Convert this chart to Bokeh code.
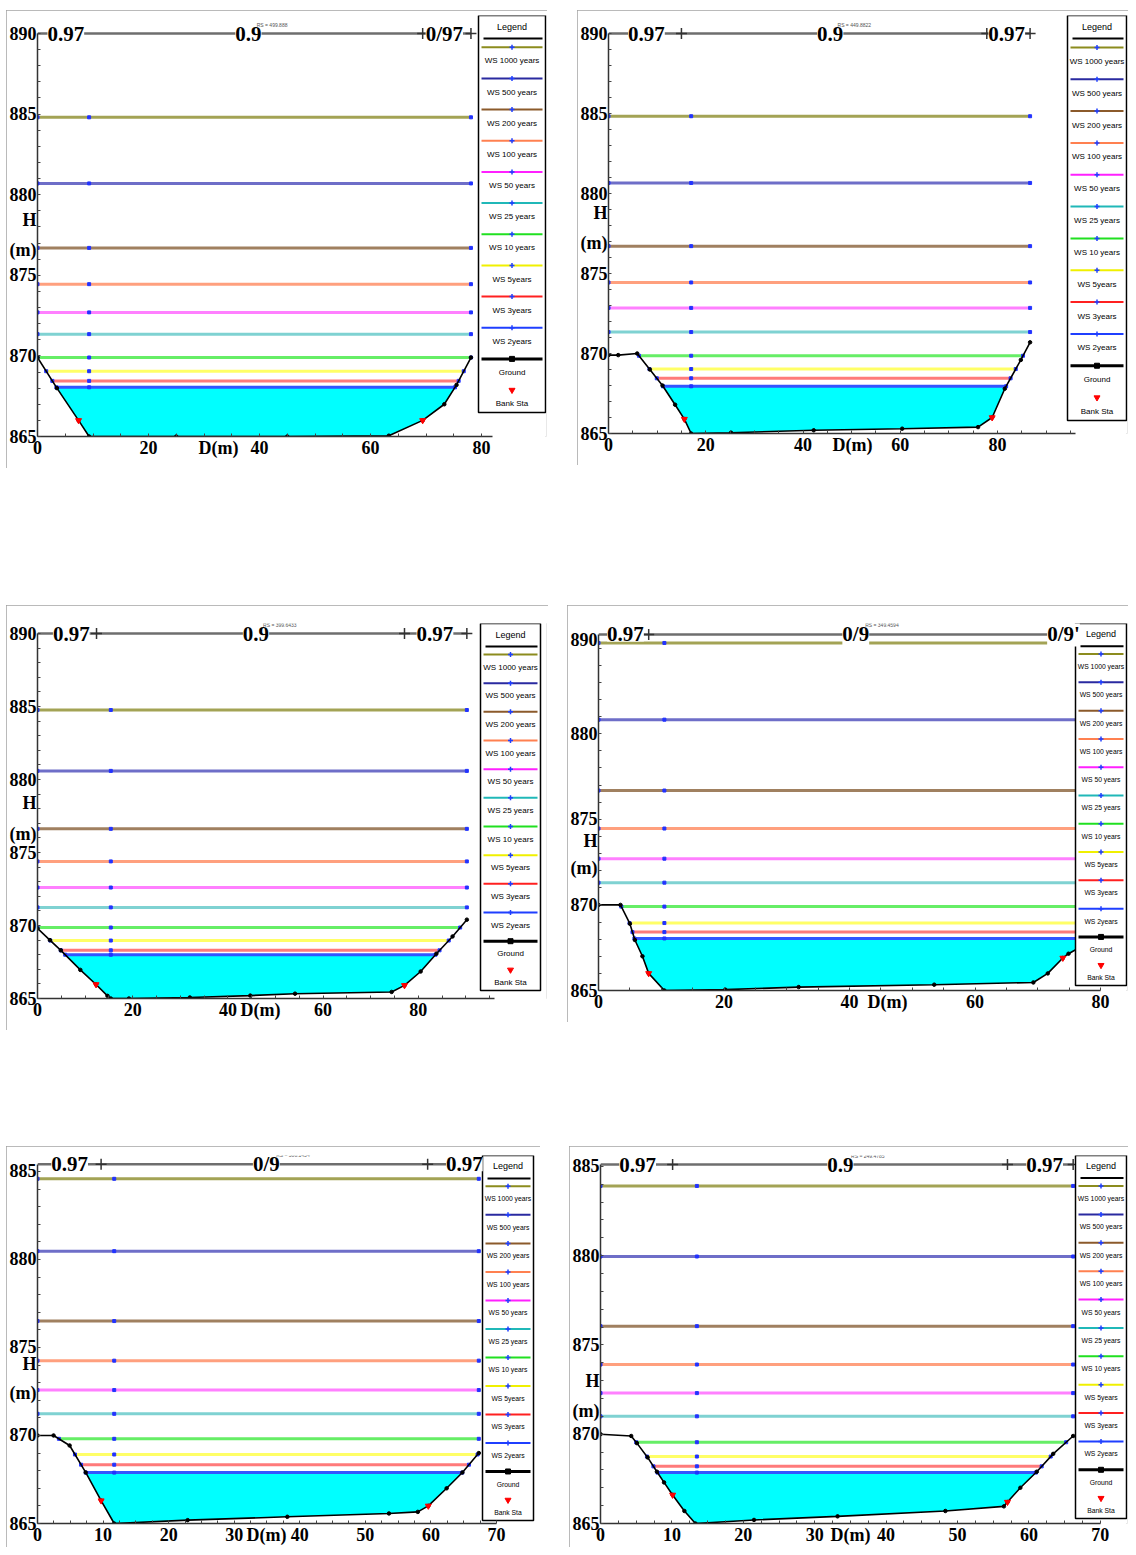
import numpy as np
from bokeh.plotting import figure
from bokeh.layouts import column, row
from bokeh.models import Spacer, Label, Range1d, FixedTicker
from bokeh.core.properties import value
from bokeh.embed import file_html
from bokeh.resources import INLINE

# ---------------- data ----------------
LEGEND_LABELS = ["WS 1000 years", "WS 500 years", "WS 200 years", "WS 100 years",
                 "WS 50 years", "WS 25 years", "WS 10 years", "WS 5years",
                 "WS 3years", "WS 2years", "Ground", "Bank Sta"]

# panel 1
P1_GROUND_X = [0, 3.5, 7.4, 9.3, 25, 45, 63.3, 69.4, 73.3, 75.5, 78.1]
P1_GROUND_Y = [869.9, 868.0, 866.0, 865.0, 865.0, 865.0, 865.05, 866.0, 867.0, 868.2, 869.9]
P1_BANK_X = [7.4, 69.4]
P1_WS = [884.8, 880.7, 876.7, 874.45, 872.7, 871.35, 869.9, 869.05, 868.45, 868.05]
P1_TOE = 9.3
P1_N_Y = 890
P1_N_END = 78.1
P1_N_BREAKS = [7.4, 69.4]
P1_N_LABELS = ["0.97", "0.9", "0/97"]
P1_N_LABEL_X = [5.1, 38.0, 73.3]
P1_RS = "RS = 499.888"
P1_X_TICKS = [0, 20, 40, 60, 80]
P1_Y_TICKS = [865, 870, 875, 880, 885, 890]

# panel 2
P2_GROUND_X = [0, 2.0, 5.9, 8.5, 11.1, 13.7, 15.6, 17.0, 25.2, 42.2, 60.4, 76.0, 78.9, 81.5, 84.8, 86.7]
P2_GROUND_Y = [869.9, 869.9, 870.0, 869.0, 868.0, 866.8, 865.9, 865.0, 865.05, 865.2, 865.3, 865.4, 866.0, 867.8, 869.6, 870.7]
P2_BANK_X = [15.6, 78.9]
P2_WS = [884.83, 880.66, 876.71, 874.44, 872.85, 871.34, 869.86, 869.03, 868.45, 867.95]
P2_TOE = 17.0
P2_N_Y = 890
P2_N_END = 86.7
P2_N_BREAKS = [15.0, 77.8]
P2_N_LABELS = ["0.97", "0.9", "0.97"]
P2_N_LABEL_X = [7.8, 45.6, 81.9]
P2_RS = "RS = 449.8822"
P2_X_TICKS = [0, 20, 40, 60, 80]
P2_Y_TICKS = [865, 870, 875, 880, 885, 890]

# panel 3
P3_GROUND_X = [0, 2.6, 4.9, 9.0, 12.3, 14.7, 15.4, 19.2, 32.0, 44.7, 54.1, 74.4, 77.1, 80.5, 83.8, 87.2, 90.2]
P3_GROUND_Y = [869.8, 869.0, 868.3, 866.96, 865.96, 865.18, 865.0, 865.0, 865.07, 865.2, 865.33, 865.45, 865.9, 866.85, 868.07, 869.25, 870.4]
P3_BANK_X = [12.3, 77.1]
P3_WS = [884.76, 880.59, 876.62, 874.39, 872.6, 871.24, 869.86, 868.97, 868.3, 868.0]
P3_TOE = 15.4
P3_N_Y = 890
P3_N_END = 90.2
P3_N_BREAKS = [12.4, 77.1]
P3_N_LABELS = ["0.97", "0.9", "0.97"]
P3_N_LABEL_X = [7.1, 45.9, 83.5]
P3_RS = "RS = 399.6433"
P3_X_TICKS = [0, 20, 40, 60, 80]
P3_Y_TICKS = [865, 870, 875, 880, 885, 890]

# panel 4
P4_GROUND_X = [0, 3.5, 5.0, 5.8, 7.0, 8.0, 10.5, 20.2, 31.9, 53.5, 69.3, 71.6, 74.0, 74.9, 76.6]
P4_GROUND_Y = [870.0, 870.0, 868.9, 867.95, 867.0, 866.0, 865.0, 865.05, 865.2, 865.34, 865.47, 866.0, 866.9, 867.15, 867.5]
P4_BANK_X = [8.0, 74.0]
P4_WS = [885.3, 880.82, 876.68, 874.46, 872.7, 871.3, 869.9, 868.94, 868.41, 868.04]
P4_TOE = 10.5
P4_N_Y = 885.8
P4_N_END = 76.6
P4_N_BREAKS = [8.0]
P4_N_LABELS = ["0.97", "0/9", "0/9'"]
P4_N_LABEL_X = [4.3, 41.0, 74.1]
P4_RS = "RS = 349.4594"
P4_X_TICKS = [0, 20, 40, 60, 80]
P4_Y_TICKS = [865, 870, 875, 880, 885.5]
P4_Y_OVERRIDES = {885.5: "890"}

# panel 5
P5_GROUND_X = [0, 2.45, 4.9, 7.35, 9.7, 11.7, 22.9, 38.1, 53.6, 58.0, 59.6, 62.4, 64.8, 67.3]
P5_GROUND_Y = [870.0, 870.0, 869.43, 867.9, 866.3, 865.0, 865.19, 865.38, 865.57, 865.66, 866.0, 867.0, 867.9, 869.0]
P5_BANK_X = [9.7, 59.6]
P5_WS = [884.58, 880.47, 876.5, 874.25, 872.58, 871.23, 869.81, 868.92, 868.34, 867.89]
P5_TOE = 11.7
P5_N_Y = 885.4
P5_N_END = 67.3
P5_N_BREAKS = [9.7, 59.5]
P5_N_LABELS = ["0.97", "0/9", "0.97"]
P5_N_LABEL_X = [4.9, 34.9, 65.1]
P5_RS = "RS = 300.1454"
P5_X_TICKS = [0, 10, 20, 30, 40, 50, 60, 70]
P5_Y_TICKS = [865, 870, 875, 880, 885]

# panel 6
P6_GROUND_X = [0, 4.3, 5.1, 6.6, 7.9, 8.9, 10.1, 11.75, 13.3, 21.5, 33.2, 48.3, 56.5, 57.0, 58.8, 61.1, 63.4, 66.2]
P6_GROUND_Y = [870.0, 869.9, 869.5, 868.7, 867.9, 867.3, 866.6, 865.7, 865.0, 865.2, 865.4, 865.7, 865.96, 866.2, 867.0, 867.9, 868.9, 869.9]
P6_BANK_X = [10.1, 57.0]
P6_WS = [883.9, 879.95, 876.05, 873.9, 872.3, 871.0, 869.55, 868.75, 868.2, 867.85]
P6_TOE = 13.5
P6_N_Y = 885.1
P6_N_END = 66.2
P6_N_BREAKS = [10.1, 57.0]
P6_N_LABELS = ["0.97", "0.9", "0.97"]
P6_N_LABEL_X = [5.2, 33.6, 62.2]
P6_RS = "RS = 249.4785"
P6_X_TICKS = [0, 10, 20, 30, 40, 50, 60, 70]
P6_Y_TICKS = [865, 870, 875, 880, 885]

# ---------------- style ----------------
PLOT_COLORS = ["#a3a355", "#6e6ec8", "#a08060", "#ffa07e", "#ff80ff", "#7fd2d2",
               "#66ee66", "#ffff66", "#ff7a7a", "#3355ff"]
LEG_COLORS = ["#8c8c1e", "#2a2aa0", "#8b5a2b", "#ff8050", "#ff20ff", "#20b8b8",
              "#20e020", "#f0f000", "#ff2020", "#1f3fff"]
SERIF = "Liberation Serif"
SANS = "Liberation Sans"


def crossings(gx, gy, level):
    gx = np.asarray(gx, float)
    gy = np.asarray(gy, float)
    i0 = int(np.argmin(gy))
    xl = gx[0]
    for i in range(i0, 0, -1):
        if gy[i - 1] >= level:
            t = (level - gy[i]) / (gy[i - 1] - gy[i])
            xl = gx[i] + t * (gx[i - 1] - gx[i])
            break
    xr = gx[-1]
    for i in range(i0, len(gx) - 1):
        if gy[i + 1] >= level:
            t = (level - gy[i]) / (gy[i + 1] - gy[i])
            xr = gx[i] + t * (gx[i + 1] - gx[i])
            break
    return float(xl), float(xr)


def make_panel(d, cfg):
    ol, ot, orr, ob = cfg["outer"]
    fl, ft, fr, fb = cfg["frame"]
    xppu, yppm = cfg["xppu"], cfg["yppm"]

    def X(px):
        return (px - fl) / xppu

    def Y(py):
        return 865 + (fb - py) / yppm

    p = figure(width=orr - ol, height=ob - ot,
               x_range=Range1d(0, X(fr)), y_range=Range1d(865, Y(ft)),
               min_border_left=fl - ol, min_border_right=orr - fr,
               min_border_top=ft - ot, min_border_bottom=ob - fb,
               toolbar_location=None, output_backend="svg",
               outline_line_color=None, background_fill_color="white",
               border_fill_color="white")
    p.styles = {"outline": "2px solid #a3a3a3", "outline-offset": "-2px"}
    p.grid.visible = False

    # axes
    for ax in (p.xaxis[0], p.yaxis[0]):
        ax.axis_line_color = "#333333"
        ax.axis_line_width = 1.5
        ax.major_tick_in = 0
        ax.major_tick_out = 0
        ax.minor_tick_in = 3
        ax.minor_tick_out = 0
        ax.minor_tick_line_color = "#444444"
        ax.major_label_text_font = SERIF
        ax.major_label_text_font_style = "bold"
        ax.major_label_text_font_size = "18px"
        ax.major_label_text_color = "black"
        ax.major_label_standoff = 1

    # axis titles are placed among the tick labels, as in the original figure
    hx, hy, mxp, myp, dxp, dyp = cfg["titles"]
    h_val = round(Y(hy), 2)
    m_val = round(Y(myp), 2)
    d_val = round(X(dxp), 2)

    xt = d["xticks"]
    step = xt[1] - xt[0]
    p.xaxis.ticker = FixedTicker(ticks=list(xt) + [d_val],
                                 minor_ticks=list(np.arange(0, cfg["xb"] + 0.01, step / 4)))
    p.yaxis.ticker = FixedTicker(ticks=list(d["yticks"]) + [h_val, m_val],
                                 minor_ticks=list(range(865, int(cfg["yb"]) + 1)))
    p.xaxis.bounds = (0, cfg["xb"])
    p.yaxis.bounds = (865, cfg["yb"])
    yover = {h_val: "H", m_val: "(m)"}
    yover.update(d.get("yover", {}))
    p.yaxis.major_label_overrides = yover
    p.xaxis.major_label_overrides = {d_val: "D(m)"}

    gx, gy = d["gx"], d["gy"]
    ws = d["ws"]

    # 2-year water body
    wl2 = ws[-1]
    xl, xr = crossings(gx, gy, wl2)
    fx = [xl] + [x for x in gx if xl < x < xr] + [xr]
    fyb = list(np.interp(fx, gx, gy))
    p.varea(x=fx, y1=fyb, y2=[wl2] * len(fx), fill_color="#00ffff")

    # water surfaces
    x0s, x1s, mx, my = [], [], [], []
    for lev in ws:
        a, b = crossings(gx, gy, lev)
        x0s.append(a)
        x1s.append(b)
        mx += [a, d["toe"], b]
        my += [lev, lev, lev]
    p.segment(x0=x0s, y0=ws, x1=x1s, y1=ws, line_color=PLOT_COLORS, line_width=3)
    p.scatter(x=mx, y=my, marker="square", size=3, color="#2233ff")

    # ground and bank stations
    p.line(gx, gy, line_color="black", line_width=1.6)
    p.scatter(gx, gy, marker="circle", size=3.5, color="black")
    bx = d["bank"]
    p.scatter(bx, list(np.interp(bx, gx, gy)), marker="inverted_triangle", size=6, color="red")

    # Manning's n strip
    ny = d["ny"]
    p.line([0, d["nend"]], [ny, ny], line_color="#6e6e6e", line_width=2.5)
    p.scatter(d["nbreaks"] + [d["nend"]], [ny] * (len(d["nbreaks"]) + 1), marker="cross",
              size=11, line_color="#333333", line_width=1.5)
    for t, x in zip(d["nlabels"], d["nlabel_x"]):
        p.add_layout(Label(x=x, y=ny, text=t, text_align="center", text_baseline="middle",
                           text_font=SERIF, text_font_style="bold", text_font_size="21px",
                           text_color="black", background_fill_color="white"))
    p.add_layout(Label(x=d["nlabel_x"][1] + 1.5, y=ny, y_offset=6, text=d["rs"],
                       text_font=SANS, text_font_size="5px", text_color="#555555",
                       text_align="left", text_baseline="bottom"))

    # legend box
    lx0, ly0, lx1, ly1 = cfg["legend"]
    p.quad(left=X(lx0), right=X(lx1), top=Y(ly0), bottom=Y(ly1),
           fill_color="white", line_color="black", line_width=1.5)
    title_h = 23
    cx = (lx0 + lx1) / 2
    p.text(x=[X(cx)], y=[Y(ly0 + 11)], text=["Legend"], text_align="center",
           text_baseline="middle", text_font=value(SANS), text_font_size="9px", text_color="black")
    p.segment(x0=[X(lx0 + 5)], x1=[X(lx1 - 3)], y0=[Y(ly0 + title_h)], y1=[Y(ly0 + title_h)],
              line_color="black", line_width=2)
    slot = (ly1 - ly0 - title_h) / 12.0
    line_y = [Y(ly0 + title_h + (i + 0.28) * slot) for i in range(12)]
    lab_y = [Y(ly0 + title_h + (i + 0.72) * slot) for i in range(12)]
    p.segment(x0=[X(lx0 + 3)] * 10, x1=[X(lx1 - 3)] * 10, y0=line_y[:10], y1=line_y[:10],
              line_color=LEG_COLORS, line_width=2)
    p.scatter(x=[X(cx)] * 10, y=line_y[:10], marker="cross", size=5, line_color="#1f3fff", line_width=1.5)
    p.segment(x0=[X(lx0 + 3)], x1=[X(lx1 - 3)], y0=[line_y[10]], y1=[line_y[10]],
              line_color="black", line_width=3)
    p.scatter(x=[X(cx)], y=[line_y[10]], marker="square", size=5, color="black")
    p.scatter(x=[X(cx)], y=[line_y[11]], marker="inverted_triangle", size=6, color="red")
    p.text(x=[X(cx)] * 12, y=lab_y, text=LEGEND_LABELS, text_align="center", text_baseline="middle",
           text_font=value(SANS), text_font_size=cfg["lfont"], text_color="black")
    return p


def pdata(gx, gy, bank, ws, toe, ny, nend, nbreaks, nlabels, nlabel_x, rs, xticks, yticks, yover=None):
    d = dict(gx=gx, gy=gy, bank=bank, ws=ws, toe=toe, ny=ny, nend=nend, nbreaks=nbreaks,
             nlabels=nlabels, nlabel_x=nlabel_x, rs=rs, xticks=xticks, yticks=yticks)
    if yover:
        d["yover"] = yover
    return d


# page-pixel layout of each panel (outer box, plot frame, scales, legend box, title spots)
CFG1 = dict(outer=(6, 10, 547, 468), frame=(37, 15, 546, 436), xppu=5.55, yppm=16.12,
            legend=(478, 15, 545, 412), xb=82, yb=890, lfont="8px",
            titles=(20, 220, 22, 250, 218, 455))
CFG2 = dict(outer=(577, 10, 1128, 465), frame=(608, 15, 1127, 433), xppu=4.8625, yppm=16.0,
            legend=(1067, 15, 1126, 420), xb=96, yb=890, lfont="8px",
            titles=(593, 212, 597, 243, 852, 450))
CFG3 = dict(outer=(6, 605, 548, 1030), frame=(37, 623, 546, 998), xppu=4.76, yppm=14.6,
            legend=(480, 623, 540, 990), xb=96, yb=890, lfont="8px",
            titles=(20, 803, 20, 833, 260, 1017))
CFG4 = dict(outer=(567, 605, 1128, 1022), frame=(598, 617, 1127, 990), xppu=6.275, yppm=17.4,
            legend=(1075, 617, 1126, 985), xb=80, yb=885.8, lfont="6.8px",
            titles=(580, 838, 585, 866, 887, 1012))
CFG5 = dict(outer=(6, 1146, 540, 1547), frame=(37, 1155, 535, 1525), xppu=6.557, yppm=17.7,
            legend=(482, 1155, 533, 1522), xb=70, yb=885.4, lfont="6.8px",
            titles=(18, 1365, 22, 1394, 266, 1538))
CFG6 = dict(outer=(569, 1146, 1128, 1547), frame=(600, 1150, 1127, 1525), xppu=7.14, yppm=18.2,
            legend=(1075, 1150, 1126, 1520), xb=70, yb=885.1, lfont="6.8px",
            titles=(592, 1380, 592, 1410, 850, 1538))

p1 = make_panel(pdata(P1_GROUND_X, P1_GROUND_Y, P1_BANK_X, P1_WS, P1_TOE, P1_N_Y, P1_N_END, P1_N_BREAKS,
                      P1_N_LABELS, P1_N_LABEL_X, P1_RS, P1_X_TICKS, P1_Y_TICKS), CFG1)
p2 = make_panel(pdata(P2_GROUND_X, P2_GROUND_Y, P2_BANK_X, P2_WS, P2_TOE, P2_N_Y, P2_N_END, P2_N_BREAKS,
                      P2_N_LABELS, P2_N_LABEL_X, P2_RS, P2_X_TICKS, P2_Y_TICKS), CFG2)
p3 = make_panel(pdata(P3_GROUND_X, P3_GROUND_Y, P3_BANK_X, P3_WS, P3_TOE, P3_N_Y, P3_N_END, P3_N_BREAKS,
                      P3_N_LABELS, P3_N_LABEL_X, P3_RS, P3_X_TICKS, P3_Y_TICKS), CFG3)
p4 = make_panel(pdata(P4_GROUND_X, P4_GROUND_Y, P4_BANK_X, P4_WS, P4_TOE, P4_N_Y, P4_N_END, P4_N_BREAKS,
                      P4_N_LABELS, P4_N_LABEL_X, P4_RS, P4_X_TICKS, P4_Y_TICKS, P4_Y_OVERRIDES), CFG4)
p5 = make_panel(pdata(P5_GROUND_X, P5_GROUND_Y, P5_BANK_X, P5_WS, P5_TOE, P5_N_Y, P5_N_END, P5_N_BREAKS,
                      P5_N_LABELS, P5_N_LABEL_X, P5_RS, P5_X_TICKS, P5_Y_TICKS), CFG5)
p6 = make_panel(pdata(P6_GROUND_X, P6_GROUND_Y, P6_BANK_X, P6_WS, P6_TOE, P6_N_Y, P6_N_END, P6_N_BREAKS,
                      P6_N_LABELS, P6_N_LABEL_X, P6_RS, P6_X_TICKS, P6_Y_TICKS), CFG6)


def page_row(pa, ca, pb, cb):
    return row(Spacer(width=ca["outer"][0], height=10), pa,
               Spacer(width=cb["outer"][0] - ca["outer"][2], height=10), pb)


# the page template has no body margin, so spacers supply the offsets
layout = column(
    Spacer(width=10, height=CFG1["outer"][1]),
    page_row(p1, CFG1, p2, CFG2),
    Spacer(width=10, height=CFG3["outer"][1] - max(CFG1["outer"][3], CFG2["outer"][3])),
    page_row(p3, CFG3, p4, CFG4),
    Spacer(width=10, height=CFG5["outer"][1] - max(CFG3["outer"][3], CFG4["outer"][3])),
    page_row(p5, CFG5, p6, CFG6),
)

open("out.html", "w").write(file_html(layout, INLINE))
